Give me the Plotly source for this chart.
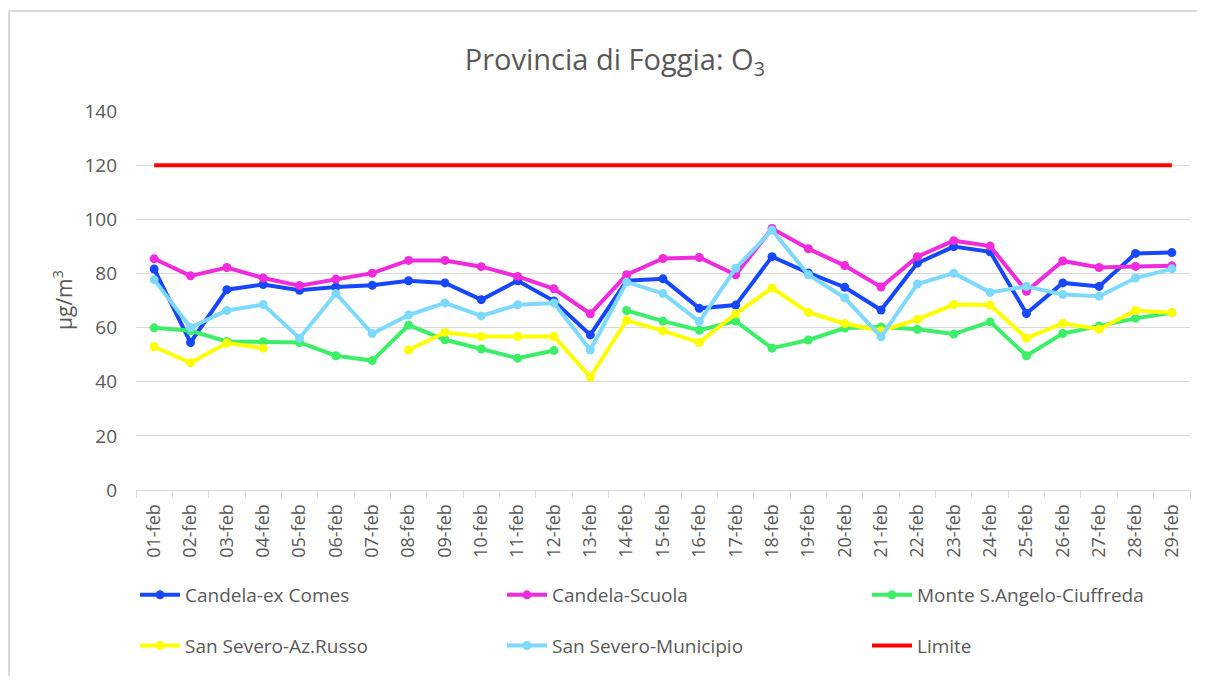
import plotly.graph_objects as go

days = [f"{d:02d}-feb" for d in range(1, 30)]

candela_ex_comes = [81.6, 54.5, 74.0, 75.9, 73.8, 75.0, 75.6, 77.3, 76.5, 70.3,
                    77.3, 69.8, 57.3, 77.3, 78.0, 67.1, 68.3, 86.2, 80.2, 74.9,
                    66.5, 83.8, 89.9, 88.0, 65.2, 76.5, 75.2, 87.4, 87.7]
candela_scuola = [85.4, 79.1, 82.2, 78.3, 75.5, 77.9, 80.1, 84.8, 84.8, 82.5,
                  78.9, 74.3, 65.1, 79.5, 85.5, 85.9, 79.5, 96.6, 89.1, 82.9,
                  75.0, 86.2, 92.1, 90.1, 73.4, 84.6, 82.2, 82.6, 82.8]
monte_s_angelo = [59.9, 58.8, 54.9, 54.8, 54.5, 49.6, 47.8, 60.9, 55.5, 52.1,
                  48.7, 51.5, None, 66.3, 62.4, 59.0, 62.4, 52.4, 55.4, 59.8,
                  60.2, 59.4, 57.6, 62.1, 49.6, 57.8, 60.6, 63.4, 65.5]
san_severo_russo = [52.9, 47.0, 54.3, 52.4, None, None, None, 51.7, 58.2, 56.7,
                    56.7, 56.7, 41.7, 62.7, 58.8, 54.5, 65.1, 74.6, 65.6, 61.5,
                    58.8, 63.0, 68.5, 68.3, 56.1, 61.6, 59.4, 66.3, 65.5]
san_severo_municipio = [77.7, 60.0, 66.3, 68.5, 56.1, 72.6, 57.8, 64.6, 69.1, 64.3,
                        68.4, 69.1, 51.7, 76.8, 72.6, 62.2, 81.9, 96.0, 79.5, 71.0,
                        56.6, 76.1, 80.1, 73.0, 75.2, 72.2, 71.6, 78.3, 81.7]
limite = [120] * 29

series = [
    ("Candela-ex Comes", candela_ex_comes, "#1747FB", "legend"),
    ("Candela-Scuola", candela_scuola, "#F02BDC", "legend2"),
    ("Monte S.Angelo-Ciuffreda", monte_s_angelo, "#3DEF68", "legend3"),
    ("San Severo-Az.Russo", san_severo_russo, "#FFFF00", "legend"),
    ("San Severo-Municipio", san_severo_municipio, "#7DD9FF", "legend2"),
]

FONT = "Open Sans"
GREY = "#595959"

fig = go.Figure()
for i, (name, vals, col, lg) in enumerate(series):
    fig.add_trace(go.Scatter(
        x=days, y=vals, name=name, mode="lines+markers",
        line=dict(color=col, width=4), marker=dict(color=col, size=9),
        connectgaps=False, legend=lg, legendgroup=f"g{i}"))
fig.add_trace(go.Scatter(
    x=days, y=limite, name="Limite", mode="lines",
    line=dict(color="#FF0000", width=4), legend="legend3", legendgroup="g5"))

# page body has an 8px margin: figure drawn at (8,8); keep it inside the window
W, H = 1189, 668
PLOT_RIGHT, PLOT_BOTTOM = 1182, 482
L, T = 128, 103
R, B = W - PLOT_RIGHT, H - PLOT_BOTTOM
pw, ph = W - L - R, H - T - B

legend_common = dict(
    orientation="v", xref="container", yref="container", xanchor="left", yanchor="top",
    font=dict(family=FONT, size=19, color=GREY), tracegroupgap=23,
    bgcolor="rgba(0,0,0,0)", itemwidth=40, traceorder="grouped",
)
ly = 1 - 568 / H

border = dict(color="#d9d9d9", width=2)

fig.update_layout(
    width=W, height=H,
    margin=dict(l=L, r=R, t=T, b=B, autoexpand=False),
    paper_bgcolor="white", plot_bgcolor="white",
    title=dict(text="Provincia di Foggia: O<sub>3</sub>", x=607 / W, xref="container", xanchor="center",
               y=1 - 52 / H, yref="container", yanchor="middle",
               font=dict(family=FONT, size=29, color=GREY)),
    font=dict(family=FONT, color=GREY),
    legend=dict(x=127 / W, y=ly, **legend_common),
    legend2=dict(x=494 / W, y=ly, **legend_common),
    legend3=dict(x=859 / W, y=ly, **legend_common),
    xaxis=dict(
        type="category", range=[-0.5, 28.5], showgrid=False, showline=True,
        linecolor="#d9d9d9", linewidth=1, ticks="outside", tickson="boundaries",
        ticklen=7, tickcolor="#d9d9d9", tickangle=-90, ticklabelstandoff=6,
        tickfont=dict(family=FONT, size=18, color=GREY),
    ),
    yaxis=dict(
        range=[0, 140], dtick=20, showgrid=True, gridcolor="#d9d9d9", gridwidth=1,
        zeroline=False, showline=False, ticks="", ticklabelstandoff=18,
        tickfont=dict(family=FONT, size=19, color=GREY),
    ),
    annotations=[dict(text="µg/m<sup>3</sup>", textangle=-90, showarrow=False,
                      xref="paper", yref="paper", x=(54 - L) / pw, y=(PLOT_BOTTOM - 292) / ph,
                      xanchor="center", yanchor="middle",
                      font=dict(family=FONT, size=21, color=GREY))],
    shapes=[
        dict(type="line", xref="paper", yref="paper",
             x0=(1 - L) / pw, x1=(W + 20 - L) / pw,
             y0=(PLOT_BOTTOM - 3) / ph, y1=(PLOT_BOTTOM - 3) / ph,
             line=border, layer="below"),
        dict(type="line", xref="paper", yref="paper",
             x0=(1 - L) / pw, x1=(1 - L) / pw,
             y0=(PLOT_BOTTOM - 3) / ph, y1=(PLOT_BOTTOM - (H + 20)) / ph,
             line=border, layer="below"),
    ],
)

fig.write_html("out.html")
